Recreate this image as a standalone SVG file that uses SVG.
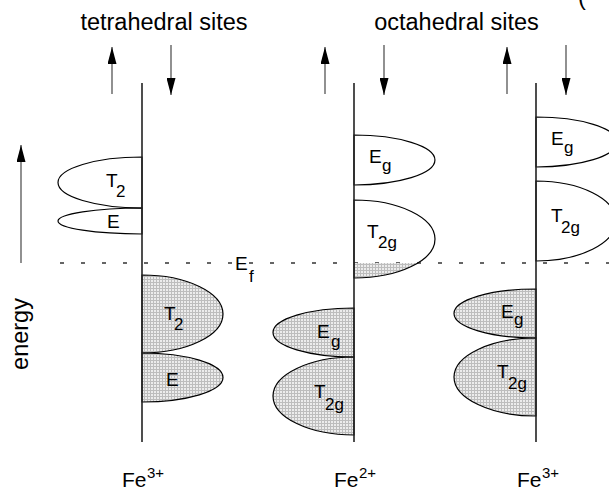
<svg xmlns="http://www.w3.org/2000/svg" width="609" height="491" viewBox="0 0 609 491">
<style>
text{font-family:"Liberation Sans",Arial,sans-serif;fill:#000}
.title{font-size:23.5px}
.lab{font-size:19px}
.sub{font-size:17px}
.fe{font-size:21px}
.sup{font-size:15px}
.axis{stroke:#222;stroke-width:1.6;fill:none}
.arr{stroke:#555;stroke-width:1.3;fill:none;marker-end:url(#head)}
.lobe{stroke:#000;stroke-width:1.2;fill:none}
.filled{stroke:#000;stroke-width:1.2;fill:url(#stip)}
.ef{stroke:#333;stroke-width:1.3;stroke-dasharray:4 17;fill:none}
</style>
<defs>
<marker id="head" markerUnits="userSpaceOnUse" markerWidth="17" markerHeight="9" viewBox="0 0 17 9" refX="17" refY="4.5" orient="auto">
<path d="M0,0 L17,4.5 L0,9 z" fill="#000"/>
</marker>
<pattern id="stip" patternUnits="userSpaceOnUse" width="3" height="3">
<rect width="3" height="3" fill="#ececec"/>
<rect width="3" height="1" fill="#bdbdbd"/>
<rect width="1" height="3" fill="#bdbdbd"/>
</pattern>
<clipPath id="belowEf"><rect x="340" y="263" width="120" height="30"/></clipPath>
</defs>

<g id="titles">
<text class="title" x="164" y="30" text-anchor="middle">tetrahedral sites</text>
<text class="title" x="456.5" y="30" text-anchor="middle">octahedral sites</text>
<text class="title" x="578" y="5">(</text>
</g>

<g id="energy-axis">
<text class="title" transform="translate(28,334) rotate(-90)" text-anchor="middle">energy</text>
</g>

<g id="connectors">
<line class="arr" x1="21" y1="263" x2="21" y2="145"/>
<line class="arr" x1="112" y1="94" x2="112" y2="47"/>
<line class="arr" x1="171" y1="45" x2="171" y2="95"/>
<line class="arr" x1="325" y1="94" x2="325" y2="47"/>
<line class="arr" x1="384" y1="45" x2="384" y2="95"/>
<line class="arr" x1="507" y1="94" x2="507" y2="47"/>
<line class="arr" x1="566" y1="45" x2="566" y2="95"/>
<line class="ef" x1="60" y1="263" x2="609" y2="263"/>
</g>

<g id="fermi-label">
<text class="lab" x="235" y="270">E</text>
<text class="sub" x="249" y="282">f</text>
</g>

<g id="tetra-fe3">
<path class="lobe" d="M142,157 A84,25.5 0 0 0 142,208 Z"/>
<path class="lobe" d="M142,208 A84,13 0 0 0 142,234 Z"/>
<path class="filled" d="M142,275 A81,39 0 0 1 142,353 Z"/>
<path class="filled" d="M142,353 A81,24.5 0 0 1 142,402 Z"/>
<line class="axis" x1="142" y1="83" x2="142" y2="442"/>
<text class="lab" x="106" y="187">T</text><text class="sub" x="116" y="197">2</text>
<text class="lab" x="107" y="228">E</text>
<text class="lab" x="164" y="320">T</text><text class="sub" x="174" y="330">2</text>
<text class="lab" x="166" y="386">E</text>
<text class="fe" x="122" y="487">Fe</text><text class="sup" x="147" y="478">3+</text>
</g>

<g id="octa-fe2">
<path d="M354,200 A81,39 0 0 1 354,278 Z" fill="url(#stip)" clip-path="url(#belowEf)"/>
<path class="lobe" d="M354,135 A81,25 0 0 1 354,185 Z"/>
<path class="lobe" d="M354,200 A81,39 0 0 1 354,278 Z"/>
<path class="filled" d="M354,308 A81,24.5 0 0 0 354,357 Z"/>
<path class="filled" d="M354,357 A81,39 0 0 0 354,435 Z"/>
<line class="axis" x1="354" y1="83" x2="354" y2="442"/>
<text class="lab" x="369" y="163">E</text><text class="sub" x="382" y="171">g</text>
<text class="lab" x="367" y="238">T</text><text class="sub" x="378" y="248">2g</text>
<text class="lab" x="317" y="338">E</text><text class="sub" x="331" y="347">g</text>
<text class="lab" x="314" y="398">T</text><text class="sub" x="325" y="410">2g</text>
<text class="fe" x="334" y="487">Fe</text><text class="sup" x="359" y="478">2+</text>
</g>

<g id="octa-fe3">
<path class="lobe" d="M536,117 A81,25 0 0 1 536,167 Z"/>
<path class="lobe" d="M536,181 A80,40 0 0 1 536,261 Z"/>
<path class="filled" d="M536,289 A82,24.5 0 0 0 536,338 Z"/>
<path class="filled" d="M536,338 A82,39 0 0 0 536,416 Z"/>
<line class="axis" x1="536" y1="83" x2="536" y2="442"/>
<text class="lab" x="551" y="145">E</text><text class="sub" x="564" y="153">g</text>
<text class="lab" x="551" y="222">T</text><text class="sub" x="561" y="233">2g</text>
<text class="lab" x="501" y="318">E</text><text class="sub" x="514" y="325">g</text>
<text class="lab" x="497" y="378">T</text><text class="sub" x="508" y="389">2g</text>
<text class="fe" x="517" y="487">Fe</text><text class="sup" x="542" y="478">3+</text>
</g>
</svg>
